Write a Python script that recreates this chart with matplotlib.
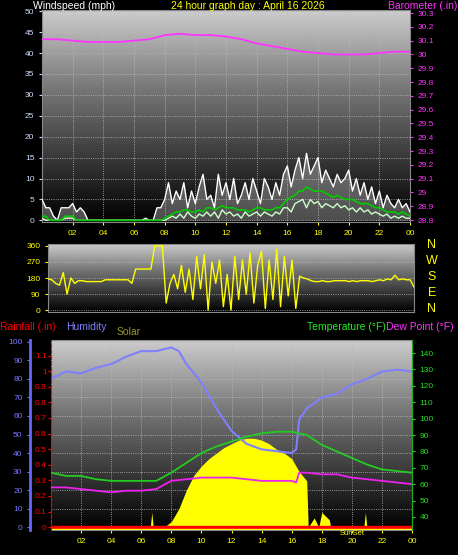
import numpy as np
import matplotlib
matplotlib.use("Agg")
import matplotlib.pyplot as plt
plt.rcParams['font.family'] = ['Liberation Sans', 'DejaVu Sans']

q = [i * 0.25 for i in range(97)]
gust = [5,3,3,1, 0,3,3,3, 4,2,3,2, 0,0,0,0, 0,0,0,0, 0,0,0,0, 0,0,0,0.5, 0,0,3,3,
        5,9,4,7, 5,9,3,7, 4,8,11,5, 6,3,11,6, 9,5,10,4, 6,9,5,10, 7,4,10,8, 5,9,6,11,
        13,8,12,15, 10,16,11,13, 15,9,12,10, 8,11,9,10, 12,7,10,6, 9,5,8,4, 7,3,6,4, 3,5,3,4, 2]
avg = [1,1,0,0, 0,0,1,1, 1,0,0,0, 0,0,0,0, 0,0,0,0, 0,0,0,0, 0,0,0,0, 0,0,0,0,
       0.5,1,1.5,2, 2,2.5,2.5,2, 2,2.5,2,3, 3,2.5,3,3.5, 3,3,3,2.5, 2.5,2.5,2,2.5, 3,3,2.5,2.5, 2.5,3,3,4,
       5,5.5,6,7, 7,8,7.5,7, 7,7,6.5,6, 5.5,6,5.5,5, 5,5,4.5,4, 4,4,3.5,3, 3,2.5,2,2, 2,1.5,2,1.5, 1]
lull = [0.5,0,0,0, 0,0,0.5,0.5, 0.5,0,0,0, 0,0,0,0, 0,0,0,0, 0,0,0,0, 0,0,0,0, 0,0,0,0,
        0,0.5,1,0.5, 1.5,0.5,2,1, 0.5,1.5,1,2, 1,2,0.5,2.5, 1.5,2,1,1.5, 0.5,2,1,1.5, 2,1,2,1.5, 1,2,1.5,3,
        3,2,4,4.5, 5,3,5,4, 4.5,3,4,3.5, 3,4,3,3.5, 2.5,3,2,3, 2,2.5,1.5,2, 1.5,1,1.5,0.5, 1,0.5,1,0.5, 0.5]
wdir = [175,170,150,140, 210,90,180,150, 165,165,160,160, 160,160,160,170, 170,170,170,170,
        170,170,150,230, 230,230,230,230, 360,360,360,40, 150,200,120,250, 100,230,60,300,
        120,310,0,270, 150,280,20,200, 0,300,60,280, 90,320,40,250, 330,10,280,60,
        340,20,300,80, 280,10,190,180, 175,165,160,160, 165,160,160,165, 165,165,165,160,
        165,160,165,165, 165,160,165,170, 165,175,170,195, 170,175,170,170, 130]
hours = list(range(25))
baro = [30.11,30.11,30.10,30.09,30.09,30.09,30.10,30.11,30.14,30.15,30.14,30.14,30.13,
        30.11,30.08,30.06,30.04,30.02,30.01,30.00,30.00,30.00,30.01,30.02,30.02]
hum_x = [0,1,2,3,4,5,6,7,8,8.5,9,10,11,12,13,14,15,16,16.3,16.5,17,18,19,20,21,22,23,24]
hum = [80,84,83,86,88,92,95,95,97,95,88,78,64,52,45,42,41,40,42,58,64,70,72,77,80,84,85,84]
temp = [67,65,65,63,62,62,62,62,67,73,79,83,86,89,91,92,92,90,84,80,76,72,69,68,67]
dew_x = [0,1,2,3,4,5,6,7,8,9,10,11,12,13,14,15,16,16.3,16.5,17,18,19,20,21,22,23,24]
dew = [58,58,57,56,55,56,56,57,62,63,64,64,64,63,62,62,62,61,67,67,66,66,64,63,62,61,60]
sol_x = [6.6,6.7,6.8,7.5,8,8.5,9,9.5,10,10.5,11,11.5,12,12.5,13,13.5,14,14.5,15,15.5,16,16.5,17,17.1,17.5,17.8,18,18.5,18.6,20.8,20.9,21.0]
sol = [0,8,0,0,3,10,20,28,33,37,40,43,45,47,48,48,47,45,42,40,37,30,25,0,5,0,8,4,0,0,8,0]
xticks = [2,4,6,8,10,12,14,16,18,20,22,24]
xlabels = ["02","04","06","08","10","12","14","16","18","20","22","00"]

W, H = 458, 555
fig = plt.figure(figsize=(W/100, H/100), dpi=100, facecolor="black")
def ax_at(x0, y0, x1, y1):
    return fig.add_axes([x0/W, 1-y1/H, (x1-x0)/W, (y1-y0)/H])
grad = np.concatenate([np.linspace(0.8, 0.45, 100), np.linspace(0.45, 0.0, 156)]).reshape(-1, 1)
def bg(ax, ylim):
    ax.imshow(grad, cmap="gray", vmin=0, vmax=1, aspect="auto",
              extent=[0, 24, ylim[0], ylim[1]], zorder=0)
    ax.set_xlim(0, 24); ax.set_ylim(*ylim)
    ax.grid(True, color="#bbbbbb", ls=":", lw=0.6, zorder=1)
    for s in ax.spines.values(): s.set_color("#888888")
    ax.set_facecolor("black")

# Top
a1 = ax_at(42, 10, 410, 222)
bg(a1, (-0.4, 50.3))
a1.fill_between(q, gust, 0, color="#dddddd", lw=0, alpha=0.35, zorder=2)
a1.plot(q, gust, color="white", lw=1, zorder=3)
a1.plot(q, lull, color="#ccffcc", lw=1, zorder=3)
a1.plot(q, avg, color="#00cc00", lw=1.2, zorder=4)
a1.set_yticks(range(0, 51, 5))
a1.set_xticks(xticks, xlabels)
a1.tick_params(axis="y", colors="#ccddff", labelsize=6, length=2)
a1.tick_params(axis="x", colors="#ffff00", labelsize=6, length=2)
b1 = a1.twinx()
b1.plot(hours, baro, color="#ff33ff", lw=1.3)
b1.set_ylim(28.786, 30.322)
bt = np.round(np.arange(28.8, 30.31, 0.1), 1)
b1.set_yticks(bt)
b1.set_yticklabels([f"{v:g}" for v in bt])
b1.tick_params(axis="y", colors="#ff33ff", labelsize=6, length=2)
for s in b1.spines.values(): s.set_visible(False)
fig.text(33/W, 1-6/H, "Windspeed (mph)", color="white", fontsize=7.5, va="center")
fig.text(248/W, 1-6/H, "24 hour graph day : April 16 2026", color="yellow", fontsize=7.5, va="center", ha="center")
fig.text(457/W, 1-6/H, "Barometer (.in)", color="#ff33ff", fontsize=7.5, va="center", ha="right")

# Middle
a2 = ax_at(48, 244, 414, 312)
bg(a2, (-10, 370))
a2.plot(q, wdir, color="#ffff00", lw=1, zorder=3)
a2.set_yticks([0, 90, 180, 270, 360])
a2.set_xticks([])
a2.tick_params(axis="y", colors="#ffff00", labelsize=6, length=2)
for i, tx in enumerate("NWSEN"):
    fig.text(432/W, 1-(245+i*16)/H, tx, color="#ffff00", fontsize=9, ha="center", va="center")

# Bottom
a3 = ax_at(51, 340, 412, 530)
bg(a3, (-1.5, 101))
a3.fill_between(sol_x, sol, 0, color="#ffff00", lw=0, zorder=2)
a3.plot(hum_x, hum, color="#8080ff", lw=1.5, zorder=4)
a3.set_xticks(xticks, xlabels)
a3.tick_params(axis="x", colors="#ffff00", labelsize=6, length=2)
a3.spines["left"].set_position(("outward", 15))
a3.spines["left"].set_color("#6666ff"); a3.spines["left"].set_linewidth(2)
a3.set_yticks(range(0, 101, 10))
a3.tick_params(axis="y", colors="#7777ff", labelsize=6, length=2)
r = a3.twinx()
r.set_ylim(-0.018, 1.2)
r.yaxis.set_ticks_position("left"); r.yaxis.set_label_position("left")
r.spines["left"].set_color("red"); r.spines["left"].set_linestyle("--")
for s in ["right", "top", "bottom"]: r.spines[s].set_visible(False)
rt = [0,0.1,0.2,0.3,0.4,0.5,0.6,0.7,0.8,0.9,1,1.1]
r.set_yticks(rt)
r.set_yticklabels([f"{v:g}" for v in rt])
r.tick_params(axis="y", colors="red", labelsize=6, length=2, pad=1)
r.axhline(0, color="red", lw=2.5)
r.axhline(-0.012, color="#ffff00", lw=1)
t = a3.twinx()
t.plot(hours, temp, color="#22cc22", lw=1.3)
t.plot(dew_x, dew, color="#ee22ee", lw=1.3)
t.set_ylim(32, 148)
t.set_yticks(range(40, 141, 10))
t.tick_params(axis="y", colors="#22dd22", labelsize=6, length=2)
t.spines["right"].set_color("#22aa22")
for s in ["left", "top", "bottom"]: t.spines[s].set_visible(False)
a3.text(20, -1.5, "SunSet", color="#ffff00", fontsize=5.5, ha="center", va="top", clip_on=False)
fig.text(0, 1-327/H, "Rainfall (.in)", color="red", fontsize=7.5, va="center")
fig.text(66/W, 1-327/H, "Humidity", color="#8080ff", fontsize=7.5, va="center")
fig.text(117/W, 1-332/H, "Solar", color="#999922", fontsize=7.5, va="center")
fig.text(386/W, 1-327/H, "Temperature (°F)", color="#22ee22", fontsize=7.5, va="center", ha="right")
fig.text(386/W, 1-327/H, "Dew Point (°F)", color="#ff33ff", fontsize=7.5, va="center", ha="left")

fig.savefig("out.png", dpi=100, facecolor="black")
